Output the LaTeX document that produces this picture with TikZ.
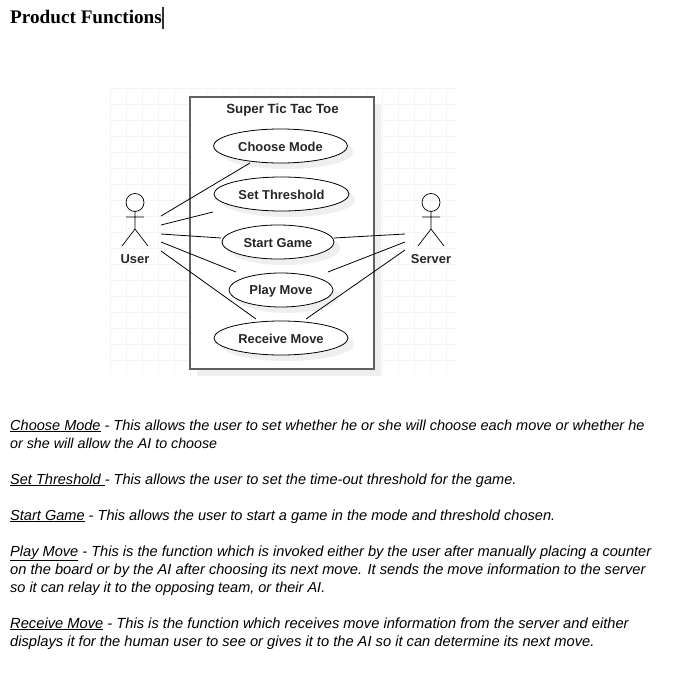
\documentclass[tikz,border=0pt]{standalone}
\usepackage{fontspec}
\setmainfont{Liberation Sans}
\newfontfamily\titlefont{Liberation Serif}
\definecolor{gridc}{HTML}{F4F4F4}
\definecolor{shadowc}{HTML}{EFEFEF}
\definecolor{framec}{HTML}{606060}
\tikzset{
  x=1pt,y=-1pt,
  usecase/.style={ellipse,draw=black,fill=white,line width=0.8pt,minimum height=34pt,inner sep=0pt,font=\fontsize{12.9}{14}\selectfont\bfseries,text=black!85},
  casetxt/.style={font=\fontsize{12.9}{14}\selectfont\bfseries,text=black!85,inner sep=0pt},
  link/.style={line width=0.8pt,black},
  actorline/.style={line width=0.7pt,black},
  para/.style={anchor=base west,inner sep=0pt,font=\fontsize{#1}{18}\selectfont\itshape},
}
\usetikzlibrary{shapes.geometric}
\newcommand{\ucase}[5]{%
  \fill[shadowc] (#3+6,#4+6) ellipse [x radius=#5,y radius=17];
  \node[usecase,minimum width=#5*2pt] (#1) at (#3,#4) {};
  \node[casetxt] (#1txt) at (#3,#4+0.7) {#2};}
\newcommand{\actor}[4]{%
  \node[circle,draw=black,line width=0.7pt,minimum size=18pt,inner sep=0pt] (#1head) at (#3,202.5) {};
  \coordinate (#1neck) at (#3,229);
  \coordinate (#1arml) at (#3-9,217);
  \coordinate (#1armr) at (#3+9,217);
  \coordinate (#1legl) at (#3-13,246);
  \coordinate (#1legr) at (#3+13,246);
  \draw[actorline] (#1head.south) -- (#1neck) (#1arml) -- (#1armr) (#1legl) -- (#1neck) -- (#1legr);
  \node[casetxt] (#1label) at (#3,#4) {#2};}
\begin{document}
\begin{tikzpicture}
\useasboundingbox (0,0) rectangle (673,680);
% grid
\foreach \gx in {110,126,...,456} \draw[gridc,line width=0.6pt] (\gx,88) -- (\gx,374);
\foreach \gy in {88,104,...,374} \draw[gridc,line width=0.6pt] (110,\gy) -- (456,\gy);
% system frame
\fill[shadowc] (197,104) rectangle (381,376);
\node[draw=framec,fill=white,line width=1.2pt,minimum width=184pt,minimum height=272pt,inner sep=0pt] (sys) at (282,233) {};
\node[casetxt,font=\fontsize{13.3}{14}\selectfont\bfseries] (systitle) at (282.5,110) {Super Tic Tac Toe};
% use cases
\ucase{choose}{Choose Mode}{280.5}{146}{67}
\ucase{thresh}{Set Threshold}{281.5}{194}{67.5}
\ucase{start}{Start Game}{278}{242}{56}
\ucase{play}{Play Move}{281}{290}{52}
\ucase{receive}{Receive Move}{281}{338}{67}
% actors
\actor{user}{User}{135}{259.5}
\actor{server}{Server}{431}{259.5}
% connector ends
\coordinate (u1) at (161,216); \coordinate (c1) at (250,163);
\coordinate (u2) at (161,225); \coordinate (c2) at (213,212);
\coordinate (u3) at (161,234); \coordinate (c3) at (221,238);
\coordinate (u4) at (161,242); \coordinate (c4) at (236,272);
\coordinate (u5) at (161,251); \coordinate (c5) at (256,319);
\coordinate (s3) at (405,234); \coordinate (d3) at (334,238);
\coordinate (s4) at (405,242); \coordinate (d4) at (328,272);
\coordinate (s5) at (405,250); \coordinate (d5) at (306,319);
\draw[link] (u1) -- (c1);
\draw[link] (u2) -- (c2);
\draw[link] (u3) -- (c3);
\draw[link] (u4) -- (c4);
\draw[link] (u5) -- (c5);
\draw[link] (s3) -- (d3);
\draw[link] (s4) -- (d4);
\draw[link] (s5) -- (d5);
% heading
\node[anchor=base west,inner sep=0pt,font=\titlefont\fontsize{19.2}{20}\selectfont\bfseries] (heading) at (10,23.5) {Product Functions};
\coordinate (curt) at (163,7); \coordinate (curb) at (163,29);
\draw[line width=1.2pt,black!80] (curt) -- (curb);
% paragraphs
\node[para=14.52] (p1) at (10,430) {\underline{Choose Mode} - This allows the user to set whether he or she will choose each move or whether he};
\node[para=14.27] (p2) at (10,448) {or she will allow the AI to choose};
\node[para=14.55] (p3) at (10,484) {\underline{Set Threshold\ }- This allows the user to set the time-out threshold for the game.};
\node[para=14.57] (p4) at (10,520) {\underline{Start Game} - This allows the user to start a game in the mode and threshold chosen.};
\node[para=14.6] (p5) at (10,556) {\underline{Play Move} - This is the function which is invoked either by the user after manually placing a counter};
\node[para=14.66] (p6) at (10,574) {on the board or by the AI after choosing its next move. It sends the move information to the server};
\node[para=14.5] (p7) at (10,592) {so it can relay it to the opposing team, or their AI.};
\node[para=14.7] (p8) at (10,628) {\underline{Receive Move} - This is the function which receives move information from the server and either};
\node[para=14.68] (p9) at (10,646) {displays it for the human user to see or gives it to the AI so it can determine its next move.};
\end{tikzpicture}
\end{document}
